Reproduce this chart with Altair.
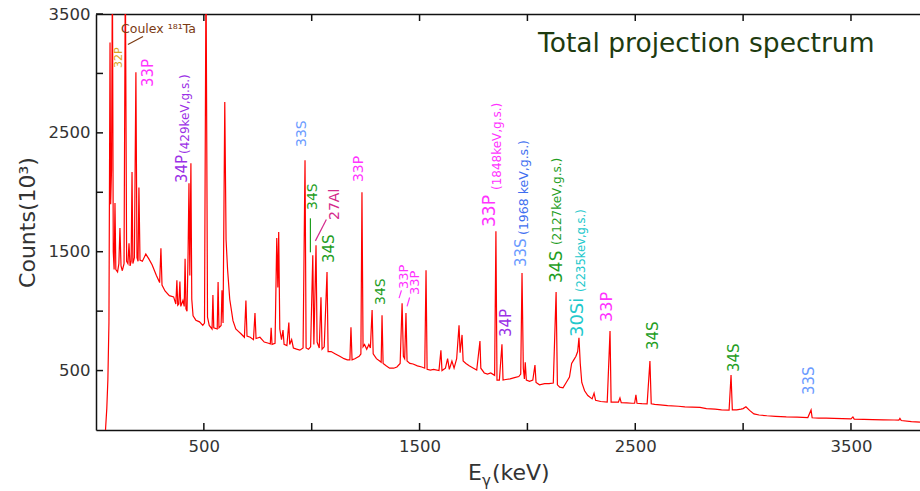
import altair as alt
import pandas as pd

# Gamma-ray energy (keV) and counts (units of 10^3) of the total projection spectrum
energy = [44, 50, 55, 60, 65, 68, 72, 76, 80, 84, 88, 92, 100, 106, 111, 116, 122, 130, 136, 142,
          148, 153, 158, 163, 167, 171, 178, 185, 190, 195, 199, 204, 215, 231, 245, 260, 280, 295, 301, 306,
          320, 340, 360, 370, 375, 379, 384, 389, 393, 403, 409, 413, 417, 422, 427, 431, 435, 440, 444, 450,
          463, 480, 495, 503, 510, 517, 525, 538, 542, 546, 562, 566, 570, 580, 584, 589, 597, 603, 610, 620,
          635, 648, 660, 672, 688, 695, 700, 715, 730, 737, 742, 760, 780, 800, 808, 812, 816, 830, 838, 843,
          847, 852, 860, 867, 872, 885, 894, 898, 907, 915, 930, 945, 960, 969, 974, 985, 995, 1005, 1010, 1020,
          1025, 1035, 1043, 1048, 1058, 1071, 1076, 1090, 1110, 1130, 1150, 1165, 1177, 1182, 1187, 1200, 1220, 1228, 1233, 1238,
          1245, 1255, 1265, 1272, 1280, 1285, 1300, 1315, 1322, 1326, 1331, 1345, 1361, 1380, 1395, 1410, 1419, 1425, 1431, 1437,
          1442, 1455, 1470, 1490, 1510, 1524, 1530, 1535, 1550, 1565, 1590, 1599, 1604, 1620, 1630, 1638, 1650, 1660, 1672, 1683,
          1688, 1697, 1702, 1715, 1730, 1750, 1765, 1780, 1784, 1800, 1815, 1830, 1848, 1854, 1859, 1870, 1882, 1887, 1900, 1920,
          1940, 1960, 1969, 1975, 1981, 1986, 1990, 1995, 2010, 2025, 2035, 2040, 2056, 2080, 2100, 2120, 2133, 2139, 2150, 2165,
          2180, 2195, 2205, 2215, 2225, 2233, 2239, 2245, 2252, 2265, 2280, 2300, 2309, 2316, 2340, 2370, 2383, 2388, 2405, 2422,
          2429, 2435, 2460, 2485, 2497, 2503, 2508, 2530, 2555, 2568, 2574, 2590, 2615, 2650, 2700, 2730, 2764, 2800, 2830, 2870,
          2900, 2935, 2944, 2950, 2970, 2990, 3000, 3013, 3030, 3050, 3074, 3110, 3150, 3200, 3250, 3300, 3315, 3320, 3350, 3385,
          3420, 3460, 3500, 3509, 3515, 3560, 3600, 3650, 3700, 3722, 3727, 3733, 3780, 3820]
counts = [0, 180, 420, 900, 3260, 1900, 2190, 3900, 1500, 1350, 1910, 1350, 1330, 1400, 1700, 1380, 1340, 1400, 3900, 1420,
          1400, 1570, 1380, 1420, 2170, 1400, 1450, 3010, 1450, 1420, 2040, 1430, 1420, 1480, 1440, 1390, 1300, 1240, 1530, 1220,
          1170, 1130, 1120, 1060, 1260, 1050, 1060, 1250, 1040, 1090, 1040, 1440, 1020, 1000, 1500, 2075, 1300, 2245, 1100, 960,
          924, 910, 880, 900, 3900, 950, 880, 850, 1135, 860, 850, 1245, 860, 880, 1175, 900, 2760, 1600, 1350, 1100,
          920, 850, 830, 810, 780, 1090, 790, 780, 760, 985, 770, 780, 740, 730, 725, 860, 720, 730, 1615, 1200,
          1665, 850, 760, 840, 720, 710, 905, 720, 760, 690, 680, 672, 690, 2270, 690, 680, 700, 1470, 720, 1555,
          740, 690, 1117, 680, 700, 1330, 660, 660, 640, 620, 600, 590, 590, 865, 590, 600, 620, 640, 2000, 700,
          720, 680, 720, 690, 1010, 640, 600, 580, 570, 966, 560, 540, 520, 520, 530, 560, 1067, 620, 600, 985,
          580, 560, 555, 540, 530, 520, 1345, 510, 504, 510, 500, 670, 500, 520, 600, 510, 580, 520, 600, 882,
          650, 800, 580, 560, 540, 520, 505, 748, 520, 480, 470, 480, 460, 1672, 420, 420, 722, 420, 425, 430,
          440, 450, 470, 1320, 520, 430, 570, 420, 410, 420, 546, 400, 380, 390, 390, 395, 1160, 380, 360, 355,
          400, 445, 560, 590, 620, 660, 775, 560, 400, 330, 290, 262, 310, 250, 240, 235, 832, 235, 235, 235,
          270, 230, 228, 225, 225, 295, 225, 222, 220, 580, 220, 215, 212, 205, 200, 195, 193, 190, 180, 175,
          170, 168, 462, 170, 170, 175, 180, 195, 165, 135, 126, 120, 115, 110, 108, 105, 168, 103, 100, 100,
          97, 95, 93, 110, 92, 90, 88, 85, 84, 83, 98, 80, 70, 67]

# Peak identifications, written bottom-to-top beside the peaks
tag_text = ["32P", "33P", "33S", "34S", "27Al", "34S", "33P", "34S", "33P", "33P",
            "34P", "33P", "34S", "34S", "33S",
            "34P", "33P", "33S", "34S", "30Si",
            "(429keV,g.s.)", "(1848keV,g.s.)", "(1968 keV,g.s.)", "(2127keV,g.s.)", "(2235kev,g.s.)"]
tag_energy = [107, 243, 957, 1004, 1110, 1080, 1219, 1321, 1428, 1479,
              1901, 2367, 2582, 2958, 3305,
              399, 1827, 1970, 2137, 2235,
              413, 1859, 1984, 2139, 2253]
tag_counts = [3046, 2886, 2381, 1851, 1767, 1405, 2086, 1052, 1186, 1136,
              782, 909, 673, 488, 294,
              2078, 1708, 1371, 1237, 782,
              2322, 2019, 1641, 1556, 1161]
tag_tone = ["gold", "magenta", "blue", "green", "pink", "green", "magenta", "green", "magenta", "magenta",
            "purple", "magenta", "green", "green", "blue",
            "purple", "magenta", "blue", "green", "cyan",
            "purple", "magenta", "blue2", "green", "cyan"]
tag_font_size = [11, 15, 14, 14, 14, 15, 14, 14, 13, 13,
                 15, 16, 15, 15, 15,
                 15, 17, 15, 17, 18,
                 12, 12, 12.5, 12, 11.5]

# Leader lines from labels to their peaks
lead_e0 = [148, 994, 1017, 1405, 1442]
lead_e1 = [218, 994, 1068, 1416, 1454]
lead_c0 = [3243, 1495, 1591, 1110, 1040]
lead_c1 = [3310, 1781, 1771, 1175, 1115]
lead_tone = ["brown", "green", "pink", "magenta", "magenta"]

# Horizontal annotations: target note and plot heading
note_text = ["Coulex \u00b9\u2078\u00b9Ta", "Total projection spectrum"]
note_energy = [116, 2049]
note_counts = [3340, 3180]
note_tone = ["brown", "title"]
note_font_size = [12.5, 26.5]

tick_values = [500, 1000, 1500, 2000, 2500, 3000, 3500]
label_values = [500, 1500, 2500, 3500]

tone_domain = ["gold", "magenta", "blue", "blue2", "green", "purple", "cyan", "pink", "brown", "title"]
tone_range = ["#d9a520", "#ff33ff", "#6b9bff", "#3f6ff0", "#1f9e1f", "#9b30e6", "#22c8cc", "#d42a8c",
              "#7b3a12", "#1e3b10"]

FONT = "DejaVu Sans"
INK = "#111111"
GREY = "#333333"
W, H = 824, 416
TICK_LEN = 7

spectrum = pd.DataFrame({"energy": energy, "counts": counts})
tags = pd.DataFrame({"text": tag_text, "energy": tag_energy, "counts": tag_counts,
                     "tone": tag_tone, "fs": tag_font_size})
leads = pd.DataFrame({"e0": lead_e0, "e1": lead_e1, "c0": lead_c0, "c1": lead_c1, "tone": lead_tone})
notes = pd.DataFrame({"text": note_text, "energy": note_energy, "counts": note_counts,
                      "tone": note_tone, "fs": note_font_size})
xticks = pd.DataFrame({"xt": tick_values})
yticks = pd.DataFrame({"yt": tick_values})
one = pd.DataFrame({"k": [0]})

xs = alt.Scale(domain=[0, 3820], nice=False, zero=False)
ys = alt.Scale(domain=[0, 3500], nice=False, zero=False)
tones = alt.Scale(domain=tone_domain, range=tone_range)

ax_bottom = alt.Axis(orient="bottom", values=label_values, format="d", ticks=False, domain=True,
                     domainColor=INK, domainWidth=1.5, grid=False, labelFont=FONT, labelFontSize=16.5,
                     labelColor=GREY, labelPadding=8, labelFlush=False, title=None)
ax_top = alt.Axis(orient="top", ticks=False, labels=False, domain=True, domainColor=INK,
                  domainWidth=1.5, grid=False, title=None)
ax_left = alt.Axis(orient="left", values=label_values, format="d", ticks=False, domain=True,
                   domainColor=INK, domainWidth=1.5, grid=False, labelFont=FONT, labelFontSize=16.5,
                   labelColor=GREY, labelPadding=6, title="Counts(10\u00b3)", titleFont=FONT,
                   titleFontSize=22, titleFontWeight="normal", titleColor=GREY, titleX=-69,
                   titleY=208, titleAngle=270, titleAlign="center", titleBaseline="middle")

line = alt.Chart(spectrum).mark_line(color="#ff0000", strokeWidth=1.2, clip=True).encode(
    x=alt.X("energy:Q", scale=xs, axis=ax_bottom),
    y=alt.Y("counts:Q", scale=ys, axis=ax_left),
)

# Inward-pointing tick marks on the bottom, top and left edges of the frame
ticks_bottom = alt.Chart(xticks).mark_rule(color=INK, strokeWidth=1.5).encode(
    x=alt.X("xt:Q", scale=xs, axis=None),
    y=alt.value(H - TICK_LEN), y2=alt.value(H))
ticks_top = alt.Chart(xticks).mark_rule(color=INK, strokeWidth=1.5).encode(
    x=alt.X("xt:Q", scale=xs, axis=None),
    y=alt.value(0), y2=alt.value(TICK_LEN))
ticks_left = alt.Chart(yticks).mark_rule(color=INK, strokeWidth=1.5).encode(
    y=alt.Y("yt:Q", scale=ys, axis=None),
    x=alt.value(0), x2=alt.value(TICK_LEN))

leaders = alt.Chart(leads).mark_rule(strokeWidth=1.2).encode(
    x=alt.X("e0:Q", scale=xs, axis=None),
    x2="e1:Q",
    y=alt.Y("c0:Q", scale=ys, axis=None),
    y2="c1:Q",
    color=alt.Color("tone:N", scale=tones, legend=None),
)

tag_marks = alt.Chart(tags).mark_text(angle=270, align="left", baseline="middle", font=FONT).encode(
    x=alt.X("energy:Q", scale=xs, axis=ax_top),
    y=alt.Y("counts:Q", scale=ys, axis=None),
    text="text:N",
    color=alt.Color("tone:N", scale=tones, legend=None),
    size=alt.Size("fs:Q", scale=None, legend=None),
)

note_marks = alt.Chart(notes).mark_text(align="left", baseline="alphabetic", font=FONT).encode(
    x=alt.X("energy:Q", scale=xs, axis=None),
    y=alt.Y("counts:Q", scale=ys, axis=None),
    text="text:N",
    color=alt.Color("tone:N", scale=tones, legend=None),
    size=alt.Size("fs:Q", scale=None, legend=None),
)

# Horizontal axis title E_gamma(keV), set in pieces so gamma sits as a subscript
xt_style = dict(font=FONT, color=GREY, align="left", baseline="alphabetic")
x_title_e = alt.Chart(one).mark_text(fontSize=22, **xt_style).encode(
    x=alt.value(372), y=alt.value(H + 50), text=alt.value("E"))
x_title_g = alt.Chart(one).mark_text(fontSize=15, **xt_style).encode(
    x=alt.value(386), y=alt.value(H + 56), text=alt.value("\u03b3"))
x_title_u = alt.Chart(one).mark_text(fontSize=22, **xt_style).encode(
    x=alt.value(396), y=alt.value(H + 50), text=alt.value("(keV)"))

chart = (
    alt.layer(line, leaders, tag_marks, note_marks, ticks_bottom, ticks_top, ticks_left,
              x_title_e, x_title_g, x_title_u)
    .resolve_axis(x="independent", y="independent")
    .properties(
        width=W,
        height=H,
        autosize=alt.AutoSizeParams(type="none"),
        padding={"left": 96, "top": 14, "right": 0, "bottom": 61},
        background="white",
    )
    .configure_view(strokeWidth=0)
)

chart.save("out.html", embed_options={"renderer": "svg", "actions": False})
